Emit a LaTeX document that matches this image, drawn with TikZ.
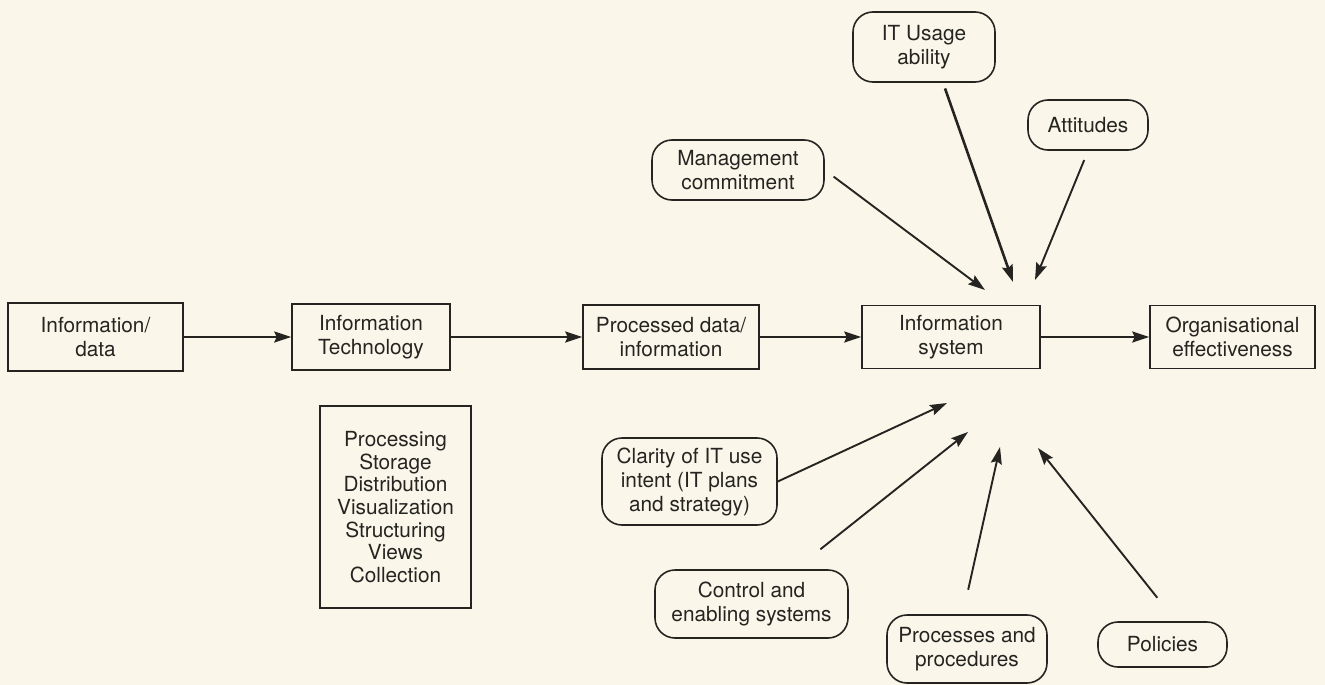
\documentclass[tikz,border=0pt]{standalone}
\usepackage{fontspec}
\setmainfont{TeX Gyre Heros}
\usetikzlibrary{arrows.meta}
\definecolor{paper}{RGB}{250,247,234}
\definecolor{ink}{RGB}{38,36,33}
\begin{document}
\begin{tikzpicture}[x=1pt,y=-1pt,
  every node/.style={font=\fontsize{20.8}{24}\selectfont, text=ink, align=center, inner sep=0pt},
  sized/.style 2 args={minimum width=#1pt, minimum height=#2pt},
  block/.style={draw=ink, line width=1.6pt},
  factor/.style={draw=ink, line width=1.6pt, rounded corners=20pt},
  flow/.style={draw=ink, line width=1.9pt, -{Stealth[length=17pt,width=11pt,inset=2.5pt]}}]

% page
\fill[paper] (0,0) rectangle (1325,685);
\useasboundingbox (0,0) rectangle (1325,685);

% main chain
\node[block, sized={175}{68}] (data) at (95.5,337) {Information/\\data};
\node[block, sized={158}{66}] (it)   at (371,337)  {Information\\Technology};
\node[block, sized={176}{64}] (proc) at (671,337)  {Processed data/\\information};
\node[block, sized={178}{63}] (sys)  at (951,337)  {Information\\system};
\node[block, sized={165}{63}] (org)  at (1232.5,337) {Organisational\\effectiveness};

% functions of IT
\node[block, sized={151}{202}, font=\fontsize{20.8}{22.6}\selectfont] (func) at (395.5,507)
  {Processing\\Storage\\Distribution\\Visualization\\Structuring\\Views\\Collection};

% influencing factors
\node[factor, sized={142}{70}] (usage)  at (924,47)     {IT Usage\\ability};
\node[factor, sized={120}{50}] (att)    at (1088,125)   {Attitudes};
\node[factor, sized={172}{60}] (mgmt)   at (738,170)    {Management\\commitment};
\node[factor, sized={175}{87}] (clar)   at (689.5,481.5){Clarity of IT use\\intent (IT plans\\and strategy)};
\node[factor, sized={193}{68}] (ctrl)   at (751.5,604)  {Control and\\enabling systems};
\node[factor, sized={160}{68}] (procs)  at (967,649)    {Processes and\\procedures};
\node[factor, sized={129}{45}] (pol)    at (1162.5,644.5){Policies};

% arrow tips gathering around the information system
\coordinate (tipM) at (985,290);
\coordinate (tipU) at (1013,282);
\coordinate (tipA) at (1035,280);
\coordinate (tipC) at (947,403);
\coordinate (tipE) at (968,432);
\coordinate (tipP) at (1000,447);
\coordinate (tipL) at (1038,448);

% chain arrows
\draw[flow] (data.east) -- (it.west);
\draw[flow] (it.east) -- (proc.west);
\draw[flow] (proc.east) -- (sys.west);
\draw[flow] (sys.east) -- (org.west);

% factor arrows
\draw[flow, shorten <=11pt] (mgmt.east) -- (tipM);
\draw[flow, line width=2.6pt, shorten <=6pt] (usage.-62) -- (tipU);
\draw[flow, shorten <=10pt] (att.south) -- (tipA);
\draw[flow] (clar.east) -- (tipC);
\draw[flow, shorten <=32pt] (ctrl) -- (tipE);
\draw[flow, shorten <=25pt] (procs.97) -- (tipP);
\draw[flow, shorten <=30pt] (pol.60) -- (tipL);
\end{tikzpicture}
\end{document}
